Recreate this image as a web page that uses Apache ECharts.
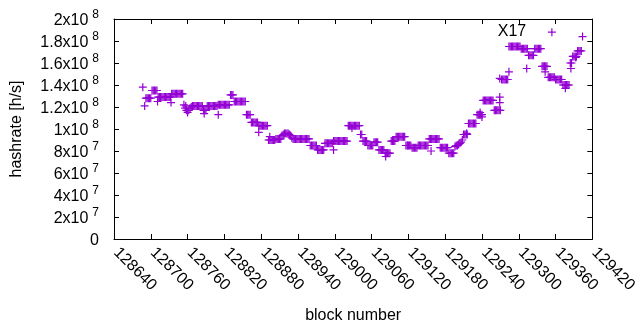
<!DOCTYPE html>
<html>
<head>
<meta charset="utf-8">
<script src="https://cdn.jsdelivr.net/npm/echarts@6.0.0/dist/echarts.min.js"></script>
<style>
html, body { margin: 0; padding: 0; background: #fff; }
#chart { width: 640px; height: 330px; }
</style>
</head>
<body>
<div id="chart"></div>
<script>
// hashrate per block, main track: one reading every 2 blocks, in 10^6 h/s
var trackStart = 128692;
var trackStep = 2;
var trackRate = [
	128, 128, 128, 128, 128,
	135, 135, 135, 135, 135,
	129, 129, 129, 129, 129, 129, 129, 129, 129, 129, 129,
	132, 132, 132, 132, 132, 132, 132, 132, 132, 132,
	122, 119, 117, 115, 117, 119, 120,
	121, 121, 121, 121, 121, 121, 121, 121, 121,
	117, 117, 117,
	121, 121, 121, 121, 121, 121, 121, 121, 121,
	122, 122, 122, 122, 122, 122, 122, 122, 122, 122,
	131, 131, 131,
	125, 125, 125, 125, 125, 125, 125, 125, 125, 125,
	113, 113, 113, 113,
	106, 106, 106, 106, 106, 106,
	103, 103, 103, 103, 103, 103, 103, 103,
	90, 90, 90, 90, 90, 90,
	91, 91, 91, 91, 91,
	94, 95, 96, 96, 96, 96, 95, 94, 92,
	91, 91, 91, 91, 91, 91, 91, 91, 91, 91, 91, 91, 91, 91,
	85, 85, 85, 85, 85, 85,
	81, 81, 81, 81, 81, 81,
	87, 87, 87, 87, 87, 87, 87,
	89, 89, 89, 89, 89, 89, 89, 89, 89, 89, 89, 89,
	103, 103, 103, 103, 103, 103, 103, 103, 103, 103,
	95, 95, 89, 89, 89, 89,
	85, 85, 85, 85, 85,
	88, 88, 88, 88,
	81, 81, 81, 81, 81,
	78, 78, 78, 78, 78,
	89, 89, 89, 89,
	93, 93, 93, 93, 93, 93, 93, 93,
	85, 85, 85, 85, 85,
	83, 83, 83, 83, 83,
	85, 85, 85, 85, 85, 85, 85, 85, 85,
	91, 91, 91, 91, 91, 91, 91, 91, 91,
	83, 83, 83, 83, 83, 83, 83,
	78, 78, 78, 78, 78,
	84, 85, 85, 86, 87, 88, 90,
	95, 95, 95, 95,
	105, 105, 105, 105, 105, 105, 105,
	113, 113, 113, 113, 113,
	126, 126, 126, 126, 126, 126, 126, 126, 126,
	117, 117, 117, 117, 117, 117,
	145, 145, 145, 145, 145, 145,
	175, 175, 175, 175, 175, 175, 175, 175, 175, 175,
	173, 173, 173, 173, 173, 173,
	167, 167, 167, 167, 167,
	173, 173, 173, 173, 173, 173,
	157, 157, 157, 157, 157,
	147, 147, 147, 147, 147, 147,
	145, 145, 145, 145, 145, 145,
	140, 140, 140, 140, 140, 140,
	160, 160,
	166, 166, 166, 166,
	171, 171, 171, 171
];

// stray readings off the main track
var strayBlocks = [128687, 128690, 128711, 128733, 128757, 128787, 128810, 128876, 128894, 128998,
	129028, 129083, 129119, 129157, 129215, 129237, 129240, 129269, 129269, 129269,
	129284, 129313, 129343, 129354, 129376, 129385, 129393, 129404];
var strayRate = [138, 121, 125, 124, 121, 114, 113, 97, 93, 81,
	101, 75, 85, 80, 96, 115, 111, 129, 124, 146,
	152, 155, 152, 188, 137, 155, 165, 184];

// y tick labels: mantissa and power of ten
var yTickBase = ['0', '2x10', '4x10', '6x10', '8x10', '1x10', '1.2x10', '1.4x10', '1.6x10', '1.8x10', '2x10'];
var yTickExp = ['', '7', '7', '7', '7', '8', '8', '8', '8', '8', '8'];

var noteText = 'X17';
var notePos = [129289, 189e6];

var points = [];
for (var i = 0; i < trackRate.length; i++) {
	points.push([trackStart + i * trackStep, trackRate[i] * 1e6]);
}
for (var j = 0; j < strayBlocks.length; j++) {
	points.push([strayBlocks[j], strayRate[j] * 1e6]);
}

var fontFam = '"Liberation Sans", Arial, sans-serif';
var plusPath = 'path://M0,3.4L8,3.4L8,4.6L0,4.6Z M3.4,0L4.6,0L4.6,8L3.4,8Z';

var myChart = echarts.init(document.getElementById('chart'));
var option = {
	animation: false,
	backgroundColor: '#fff',
	textStyle: { fontFamily: fontFam },
	grid: { left: 114, right: 31, top: 19, bottom: 91, show: false },
	xAxis: [{
		type: 'value',
		min: 128640,
		max: 129420,
		interval: 60,
		name: 'block number',
		nameLocation: 'middle',
		nameGap: 69,
		nameTextStyle: { fontSize: 16, color: '#000', fontFamily: fontFam },
		axisLine: { onZero: false, lineStyle: { color: '#000', width: 1 } },
		axisTick: { inside: true, length: 5, lineStyle: { color: '#000' } },
		splitLine: { show: false },
		axisLabel: {
			rotate: -45,
			margin: 9,
			fontSize: 16,
			padding: [0, 0, 0, 3],
			color: '#000',
			fontFamily: fontFam,
			formatter: function(v) { return String(v); }
		}
	}, {
		type: 'value',
		position: 'top',
		min: 128640,
		max: 129420,
		interval: 60,
		axisLine: { onZero: false, lineStyle: { color: '#000', width: 1 } },
		axisTick: { inside: true, length: 5, lineStyle: { color: '#000' } },
		axisLabel: { show: false },
		splitLine: { show: false }
	}],
	yAxis: [{
		type: 'value',
		min: 0,
		max: 2e8,
		interval: 2e7,
		name: 'hashrate [h/s]',
		nameLocation: 'middle',
		nameRotate: 90,
		nameGap: 89,
		nameTextStyle: { fontSize: 16, color: '#000', fontFamily: fontFam },
		axisLine: { show: true, lineStyle: { color: '#000', width: 1 } },
		axisTick: { inside: true, length: 5, lineStyle: { color: '#000' } },
		splitLine: { show: false },
		axisLabel: {
			margin: 15,
			color: '#000',
			fontFamily: fontFam,
			formatter: function(v) {
				var k = Math.round(v / 2e7);
				if (!yTickExp[k]) return '{b|' + yTickBase[k] + '}';
				return '{b|' + yTickBase[k] + '}{s|' + yTickExp[k] + '}';
			},
			rich: {
				b: { fontSize: 16, lineHeight: 20, verticalAlign: 'bottom', fontFamily: fontFam, color: '#000' },
				s: { fontSize: 12, lineHeight: 11, verticalAlign: 'top', padding: [0, 0, 0, 4], fontFamily: fontFam, color: '#000' }
			}
		}
	}, {
		type: 'value',
		position: 'right',
		min: 0,
		max: 2e8,
		interval: 2e7,
		axisLine: { show: true, lineStyle: { color: '#000', width: 1 } },
		axisTick: { inside: true, length: 5, lineStyle: { color: '#000' } },
		axisLabel: { show: false },
		splitLine: { show: false }
	}],
	series: [{
		type: 'scatter',
		symbol: plusPath,
		symbolSize: 8,
		itemStyle: { color: '#9400d3', opacity: 1 },
		data: points,
		markPoint: {
			symbol: 'circle',
			symbolSize: 1,
			itemStyle: { color: 'rgba(0,0,0,0)' },
			label: {
				show: true,
				position: 'inside',
				formatter: noteText,
				fontSize: 16,
				color: '#000',
				fontFamily: fontFam
			},
			data: [{ coord: notePos }]
		}
	}]
};
myChart.setOption(option);
</script>
</body>
</html>
